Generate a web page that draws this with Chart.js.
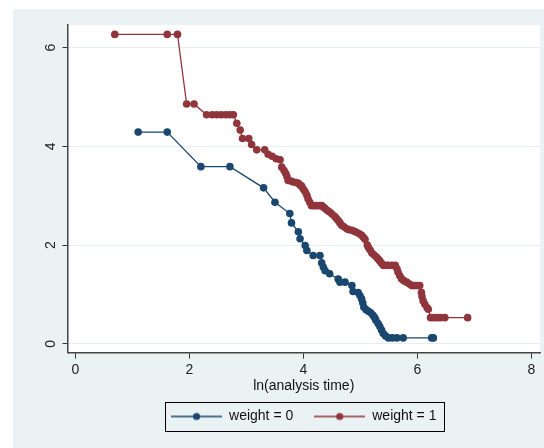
<!DOCTYPE html>
<html>
<head>
<meta charset="utf-8">
<script src="https://cdn.jsdelivr.net/npm/chart.js@4/dist/chart.umd.min.js"></script>
<style>
  html, body { margin:0; padding:0; background:#fff; }
  #wrap { position:absolute; left:13px; top:9px; width:531px; height:439px; background:#eaf2f3; }
  canvas { display:block; }
</style>
</head>
<body>
<div id="wrap"><canvas id="c" width="531" height="439"></canvas></div>
<script>
// ln(analysis time) vs -ln(-ln S) by weight group
const xTicks = [0, 2, 4, 6, 8];
const yTicks = [0, 2, 4, 6];
const seriesNames = ['weight = 0', 'weight = 1'];

const weight0X = [1.10, 1.61, 2.20, 2.71, 3.30, 3.50, 3.76, 3.79, 3.91, 3.94,
  4.03, 4.06, 4.17, 4.29, 4.32, 4.35, 4.38, 4.46, 4.61, 4.64,
  4.73, 4.85, 4.87, 4.96, 4.99, 5.02, 5.04, 5.06, 5.10, 5.14,
  5.18, 5.22, 5.25, 5.27, 5.31, 5.34, 5.37, 5.40, 5.44, 5.49,
  5.56, 5.64, 5.75, 6.25, 6.28];
const weight0Y = [4.29, 4.29, 3.59, 3.59, 3.16, 2.87, 2.64, 2.45, 2.27, 2.13,
  1.99, 1.89, 1.79, 1.79, 1.64, 1.55, 1.48, 1.42, 1.31, 1.25,
  1.25, 1.18, 1.06, 1.04, 0.98, 0.91, 0.83, 0.74, 0.69, 0.66,
  0.63, 0.58, 0.53, 0.48, 0.41, 0.35, 0.28, 0.21, 0.16, 0.12,
  0.12, 0.12, 0.12, 0.12, 0.12];

const weight1X = [0.69, 1.61, 1.79, 1.95, 2.08, 2.30, 2.40, 2.48, 2.56, 2.64,
  2.71, 2.77, 2.83, 2.89, 2.93, 3.04, 3.09, 3.18, 3.32, 3.38,
  3.45, 3.52, 3.59, 3.62, 3.66, 3.69, 3.71, 3.73, 3.78, 3.82,
  3.87, 3.91, 3.95, 3.97, 4.00, 4.03, 4.06, 4.08, 4.11, 4.14,
  4.19, 4.23, 4.28, 4.32, 4.35, 4.38, 4.42, 4.46, 4.50, 4.55,
  4.58, 4.61, 4.64, 4.67, 4.71, 4.76, 4.80, 4.85, 4.89, 4.93,
  4.98, 5.02, 5.05, 5.08, 5.12, 5.14, 5.17, 5.20, 5.24, 5.28,
  5.31, 5.34, 5.37, 5.40, 5.45, 5.49, 5.55, 5.61, 5.64, 5.66,
  5.69, 5.72, 5.76, 5.81, 5.86, 5.90, 5.95, 6.00, 6.04, 6.07,
  6.08, 6.10, 6.13, 6.17, 6.19, 6.23, 6.28, 6.34, 6.40, 6.48,
  6.88];
const weight1Y = [6.27, 6.27, 6.27, 4.86, 4.86, 4.64, 4.64, 4.64, 4.64, 4.64,
  4.64, 4.64, 4.47, 4.33, 4.16, 4.16, 4.04, 3.93, 3.93, 3.84,
  3.80, 3.75, 3.73, 3.58, 3.51, 3.45, 3.39, 3.31, 3.30, 3.28,
  3.27, 3.25, 3.21, 3.19, 3.13, 3.08, 3.01, 2.94, 2.87, 2.80,
  2.80, 2.80, 2.80, 2.80, 2.77, 2.74, 2.70, 2.67, 2.63, 2.58,
  2.54, 2.50, 2.45, 2.40, 2.37, 2.33, 2.31, 2.30, 2.28, 2.26,
  2.23, 2.20, 2.16, 2.12, 2.00, 1.95, 1.90, 1.84, 1.80, 1.76,
  1.72, 1.68, 1.63, 1.59, 1.59, 1.59, 1.59, 1.59, 1.52, 1.45,
  1.38, 1.32, 1.28, 1.25, 1.21, 1.18, 1.18, 1.18, 1.18, 1.04,
  0.96, 0.87, 0.80, 0.73, 0.70, 0.53, 0.53, 0.53, 0.53, 0.53,
  0.53];

const colors = ['#1a476f', '#90353b'];
const FONT = {family: '"Liberation Sans", Arial, sans-serif', size: 14};

function pts(xs, ys){ return xs.map((x, i) => ({x: x, y: ys[i]})); }

// line-with-dot legend symbol
function legendSymbol(color){
  const cv = document.createElement('canvas');
  cv.width = 51; cv.height = 10;
  const g = cv.getContext('2d');
  g.strokeStyle = color; g.lineWidth = 1.3;
  g.beginPath(); g.moveTo(0, 5); g.lineTo(51, 5); g.stroke();
  g.fillStyle = color;
  g.beginPath(); g.arc(25.5, 5, 3.6, 0, Math.PI * 2); g.fill();
  return cv;
}

const plotBg = {
  id: 'plotBg',
  beforeDraw(chart){
    const a = chart.chartArea, ctx = chart.ctx;
    ctx.save();
    ctx.fillStyle = '#ffffff';
    ctx.fillRect(a.left, a.top, a.right - a.left, a.bottom - a.top);
    ctx.restore();
  },
  afterDraw(chart){
    const ctx = chart.ctx;
    // rotated y tick labels
    const ys = chart.scales.y;
    ctx.save();
    ctx.fillStyle = '#222';
    ctx.font = '14px "Liberation Sans", Arial, sans-serif';
    ctx.textAlign = 'center';
    ctx.textBaseline = 'middle';
    ys.ticks.forEach(t => {
      const py = ys.getPixelForValue(t.value);
      ctx.save();
      ctx.translate(37.7, py);
      ctx.rotate(-Math.PI / 2);
      ctx.fillText(String(t.value), 0, 0);
      ctx.restore();
    });
    // legend border
    const hb = chart.legend.legendHitBoxes;
    if (hb && hb.length){
      const first = hb[0], last = hb[hb.length - 1];
      const cy = first.top + first.height / 2;
      const l = first.left - 6, r = last.left + last.width + 8;
      ctx.strokeStyle = '#000';
      ctx.lineWidth = 1;
      ctx.strokeRect(Math.round(l) + 0.5, Math.round(cy - 14.5) + 0.5, Math.round(r - l), 29);
    }
    ctx.restore();
  }
};

new Chart(document.getElementById('c'), {
  type: 'scatter',
  data: {
    datasets: [
      {label: seriesNames[0], data: pts(weight0X, weight0Y), showLine: true,
       borderColor: colors[0], backgroundColor: colors[0], borderWidth: 1.3,
       pointRadius: 3.8, pointBorderWidth: 0, pointHoverRadius: 3.8},
      {label: seriesNames[1], data: pts(weight1X, weight1Y), showLine: true,
       borderColor: colors[1], backgroundColor: colors[1], borderWidth: 1.3,
       pointRadius: 3.8, pointBorderWidth: 0, pointHoverRadius: 3.8}
    ]
  },
  options: {
    responsive: false,
    animation: false,
    devicePixelRatio: 1,
    layout: {padding: {left: 0, right: 4, top: 16, bottom: 14.5}},
    plugins: {
      tooltip: {enabled: false},
      legend: {
        position: 'bottom',
        fullSize: false,
        labels: {
          usePointStyle: true,
          pointStyleWidth: 51,
          padding: 21,
          color: '#111',
          font: FONT,
          generateLabels(chart){
            return chart.data.datasets.map((ds, i) => ({
              text: ds.label, pointStyle: legendSymbol(colors[i]),
              fillStyle: colors[i], strokeStyle: colors[i], lineWidth: 0,
              datasetIndex: i, hidden: false, fontColor: '#111'
            }));
          }
        }
      }
    },
    scales: {
      x: {
        type: 'linear', min: -0.14, max: 8.15,
        afterBuildTicks(s){ s.ticks = xTicks.map(v => ({value: v})); },
        afterFit(s){ s.height = 35.8; },
        grid: {drawOnChartArea: false, tickLength: 6, tickColor: '#333', tickWidth: 1},
        border: {display: true, color: '#444', width: 1.5},
        ticks: {color: '#222', font: FONT, padding: 3, maxRotation: 0},
        title: {display: true, text: 'ln(analysis time)', color: '#111', font: FONT,
                padding: {top: 0, bottom: -6}}
      },
      y: {
        type: 'linear', min: -0.18, max: 6.46,
        afterBuildTicks(s){ s.ticks = yTicks.map(v => ({value: v})); },
        afterFit(s){ s.width = 54.5; },
        grid: {color: '#e6eef0', lineWidth: 1, tickLength: 5, tickColor: '#333', tickWidth: 1},
        border: {display: true, color: '#444', width: 1.5},
        ticks: {display: false}
      }
    }
  },
  plugins: [plotBg]
});
</script>
</body>
</html>
